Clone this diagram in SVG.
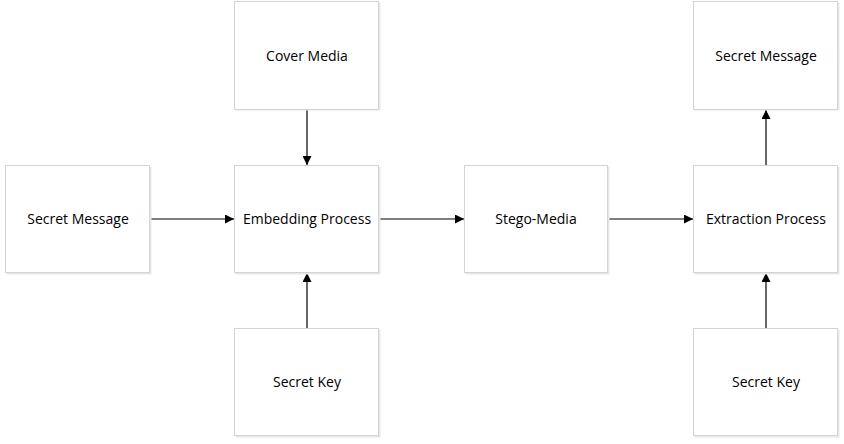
<svg xmlns="http://www.w3.org/2000/svg" width="844" height="444" viewBox="0 0 844 444">
<style>
.box{fill:#ffffff;stroke:#d4d4d4;stroke-width:1}
.sh{fill:#e8e8e8}
.t{font-family:"Open Sans","Noto Sans",sans-serif;font-size:14px;fill:#000;text-anchor:middle}
.c{stroke:#000;stroke-width:1.2;fill:none;marker-end:url(#ah)}
</style>
<defs>
<marker id="ah" viewBox="0 0 10 10" refX="10" refY="5" markerWidth="9" markerHeight="9" markerUnits="userSpaceOnUse" orient="auto">
<path d="M0,0 L10,5 L0,10 z" fill="#000"/>
</marker>
</defs>
<rect width="844" height="444" fill="#ffffff"/>
<g id="connectors">
<line class="c" x1="150" y1="219" x2="234" y2="219"/>
<line class="c" x1="307" y1="110" x2="307" y2="165"/>
<line class="c" x1="307" y1="328" x2="307" y2="273"/>
<line class="c" x1="379" y1="219" x2="464" y2="219"/>
<line class="c" x1="608" y1="219" x2="693" y2="219"/>
<line class="c" x1="766" y1="328" x2="766" y2="273"/>
<line class="c" x1="766" y1="165" x2="766" y2="110"/>
</g>
<g id="secret-message-in"><rect class="sh" x="6.5" y="166.5" width="145" height="108"/><rect class="box" x="5.5" y="165.5" width="144" height="107"/><text class="t" x="78" y="224">Secret Message</text></g>
<g id="cover-media"><rect class="sh" x="235.5" y="2.5" width="145" height="108"/><rect class="box" x="234.5" y="1.5" width="144" height="108"/><text class="t" x="307" y="61">Cover Media</text></g>
<g id="embedding"><rect class="sh" x="235.5" y="166.5" width="145" height="108"/><rect class="box" x="234.5" y="165.5" width="144" height="107"/><text class="t" x="307" y="224">Embedding Process</text></g>
<g id="secret-key-1"><rect class="sh" x="235.5" y="329.5" width="145" height="108"/><rect class="box" x="234.5" y="328.5" width="144" height="107"/><text class="t" x="307" y="387">Secret Key</text></g>
<g id="stego-media"><rect class="sh" x="465.5" y="166.5" width="144" height="108"/><rect class="box" x="464.5" y="165.5" width="143" height="107"/><text class="t" x="536" y="224">Stego-Media</text></g>
<g id="extraction"><rect class="sh" x="694.5" y="166.5" width="145" height="108"/><rect class="box" x="693.5" y="165.5" width="144" height="107"/><text class="t" x="766" y="224">Extraction Process</text></g>
<g id="secret-message-out"><rect class="sh" x="694.5" y="2.5" width="145" height="108"/><rect class="box" x="693.5" y="1.5" width="144" height="108"/><text class="t" x="766" y="61">Secret Message</text></g>
<g id="secret-key-2"><rect class="sh" x="694.5" y="329.5" width="145" height="108"/><rect class="box" x="693.5" y="328.5" width="144" height="107"/><text class="t" x="766" y="387">Secret Key</text></g>
</svg>
